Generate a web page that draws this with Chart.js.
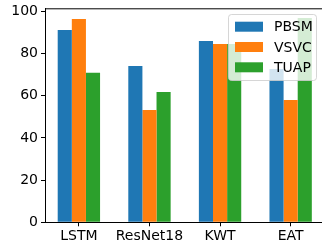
<!DOCTYPE html>
<html>
<head>
<meta charset="utf-8">
<script src="https://cdn.jsdelivr.net/npm/chart.js@4.4.0/dist/chart.umd.min.js"></script>
<style>
    html, body { margin: 0; padding: 0; background: #fff; overflow: hidden; }
    #wrap { width: 322px; height: 243px; overflow: hidden; position: relative; }
    #barChart { position: absolute; left: 0; top: 0; }
</style>
</head>
<body>
<div id="wrap"><canvas id="barChart" width="350" height="243"></canvas></div>
<script>
// data
const models = ['LSTM', 'ResNet18', 'KWT', 'EAT'];
const pbsm = [91.2, 74.1, 86.0, 72.7];
const vsvc = [96.4, 53.3, 84.6, 58.0];
const tuap = [70.9, 61.8, 84.6, 96.9];
const yTicks = [0, 20, 40, 60, 80, 100];

const FONT = { family: 'DejaVu Sans', size: 14 };

function toPoints(values) {
    return values.map((v, i) => ({ x: i, y: v }));
}

// top spine (the right one falls outside the picture)
const framePlugin = {
    id: 'frame',
    afterDatasetsDraw(chart) {
        const { ctx, chartArea } = chart;
        ctx.save();
        ctx.strokeStyle = '#000';
        ctx.lineWidth = 1;
        ctx.beginPath();
        ctx.moveTo(chartArea.left, chartArea.top + 0.5);
        ctx.lineTo(chartArea.right, chartArea.top + 0.5);
        ctx.stroke();
        ctx.restore();
    }
};

// legend drawn inside the axes, over the bars
const insideLegend = {
    id: 'insideLegend',
    afterDraw(chart) {
        const ctx = chart.ctx;
        const x = 228.5, y = 14.5, w = 88, h = 66, r = 3;
        ctx.save();
        ctx.beginPath();
        ctx.roundRect(x, y, w, h, r);
        ctx.fillStyle = 'rgba(255,255,255,0.8)';
        ctx.fill();
        ctx.strokeStyle = 'rgba(204,204,204,0.8)';
        ctx.lineWidth = 1;
        ctx.stroke();
        ctx.font = '14px "DejaVu Sans"';
        ctx.textBaseline = 'middle';
        ctx.textAlign = 'left';
        chart.data.datasets.forEach((ds, i) => {
            const cy = 26.7 + i * 20.3;
            ctx.fillStyle = ds.backgroundColor;
            ctx.fillRect(235, cy - 5, 28, 10);
            ctx.fillStyle = '#000';
            ctx.fillText(ds.label, 274, cy + 1);
        });
        ctx.restore();
    }
};

const ctx = document.getElementById('barChart').getContext('2d');
new Chart(ctx, {
    type: 'bar',
    data: {
        datasets: [
            { label: 'PBSM', data: toPoints(pbsm), backgroundColor: '#1f77b4' },
            { label: 'VSVC', data: toPoints(vsvc), backgroundColor: '#ff7f0e' },
            { label: 'TUAP', data: toPoints(tuap), backgroundColor: '#2ca02c' }
        ]
    },
    options: {
        responsive: false,
        animation: false,
        categoryPercentage: 0.6,
        barPercentage: 1.0,
        layout: { padding: { top: 8.3, right: 5, left: 0, bottom: 0 } },
        plugins: {
            legend: { display: false },
            tooltip: { enabled: false }
        },
        scales: {
            x: {
                type: 'linear',
                min: -0.48,
                max: 3.77,   // axis runs past the right edge of the picture
                offset: false,
                grid: { display: true, drawOnChartArea: false, drawTicks: true, tickLength: 4, color: '#000', offset: false },
                border: { display: true, color: '#000', width: 1 },
                afterBuildTicks: (scale) => { scale.ticks = models.map((m, i) => ({ value: i })); },
                afterFit: (scale) => {
                    scale.height = 20.7;
                    scale.paddingLeft = 0;
                    scale.paddingRight = 0;
                },
                ticks: {
                    color: '#000',
                    font: FONT,
                    padding: 2,
                    maxRotation: 0,
                    autoSkip: false,
                    callback: (value) => models[value]
                }
            },
            y: {
                min: 0,
                max: 101.5,
                grid: { display: true, drawOnChartArea: false, drawTicks: true, tickLength: 4, color: '#000' },
                border: { display: true, color: '#000', width: 1 },
                afterBuildTicks: (scale) => { scale.ticks = yTicks.map(v => ({ value: v })); },
                afterFit: (scale) => {
                    scale.width = 45;
                    scale.paddingTop = 0;
                    scale.paddingBottom = 0;
                },
                ticks: {
                    color: '#000',
                    font: FONT,
                    padding: 3
                }
            }
        }
    },
    plugins: [framePlugin, insideLegend]
});
</script>
</body>
</html>
